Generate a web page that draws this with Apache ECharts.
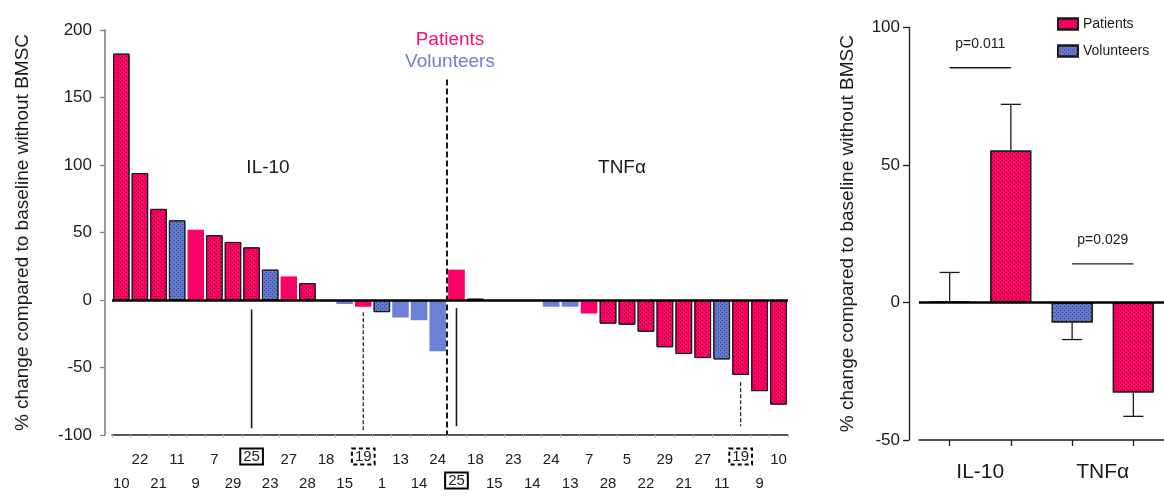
<!DOCTYPE html>
<html>
<head>
<meta charset="utf-8">
<script src="https://cdn.jsdelivr.net/npm/echarts/dist/echarts.min.js"></script>
<style>
  html, body { margin: 0; padding: 0; background: #fff; }
  #chart { width: 1164px; height: 496px; }
</style>
</head>
<body>
<div id="chart"></div>
<script>
/******************* data *******************/
// IL-10 waterfall (subject id, % change, bar kind: P/p patient dotted/plain, V/v volunteer dotted/plain)
var il10Ids    = ['10','22','21','11','9','7','29','25','23','27','28','18','15','19','1','13','14','24'];
var il10Values = [182.5, 94, 67.5, 59, 52, 48, 43, 39, 22.5, 17.5, 12.5, 0, -3, -5, -9, -13, -15, -38];
var il10Kinds  = ['P','P','P','V','p','P','P','P','V','p','P','v','v','p','V','v','v','v'];
// TNFa waterfall
var tnfIds    = ['25','18','15','23','14','24','13','7','28','5','22','29','21','27','11','19','9','10'];
var tnfValues = [22.5, 1, 0, 0, 0, -5, -5, -10, -17.5, -18.3, -23.5, -35, -40, -43, -44, -55.5, -67.5, -77.5];
var tnfKinds  = ['p','V','v','v','v','v','v','p','P','P','P','P','P','P','V','P','P','P'];
// marker lines under subjects 25 / 19 : [category index, from, to, dashed]
var il10Marks = [[7, -7, -95, 0], [13, -9, -96.5, 1]];
var tnfMarks  = [[0, -6, -93.5, 0], [15, -61, -93.5, 1]];

// summary panel
var cytokines   = ['IL-10', 'TNFα'];
var volMean     = [0.3, -7.3];
var volErrEnd   = [10.9, -13.5];
var patMean     = [55.2, -32.7];
var patErrEnd   = [72, -41.4];
var pTexts      = ['p=0.011', 'p=0.029'];
var pLevels     = [85.3, 14];

/******************* styles *******************/
var FONT = 'Liberation Sans, Arial, sans-serif';
var PINK = '#ff0066';
var BLUE = '#6b80d6';
var BLUE_DOT = '#6478d0';
var DOTS = {
    symbol: 'rect',
    symbolSize: 1,
    color: 'rgba(0,0,0,0.45)',
    dashArrayX: [[1, 3], [0, 2, 1, 1]],
    dashArrayY: [1, 1]
};

function buildBars(values, kinds) {
    return values.map(function (v, i) {
        var k = kinds[i];
        var patient = (k === 'P' || k === 'p');
        var dotted = (k === 'P' || k === 'V');
        var style = {
            color: patient ? PINK : (dotted ? BLUE_DOT : BLUE),
            borderColor: dotted ? '#1a1a1a' : 'rgba(0,0,0,0)',
            borderWidth: dotted ? 1 : 0
        };
        if (dotted) {
            style.decal = DOTS;
        }
        return { value: v, itemStyle: style };
    });
}

function labelFormatter(value, index) {
    var txt = value;
    if (value === '25') {
        txt = '{solid|25}';
    } else if (value === '19') {
        txt = '{dash|19}';
    }
    return index % 2 === 0 ? '\n' + txt : txt;
}

function waterfallXAxis(gridIndex, ids) {
    return {
        type: 'category',
        gridIndex: gridIndex,
        data: ids,
        position: 'bottom',
        axisLine: { onZero: false, lineStyle: { color: '#222', width: 1.5 } },
        axisTick: { show: true, length: 3, interval: 0, lineStyle: { color: '#c8c8c8' } },
        axisLabel: {
            interval: 0,
            margin: 13,
            lineHeight: 24,
            fontSize: 15,
            fontFamily: FONT,
            color: '#1a1a1a',
            formatter: labelFormatter,
            rich: {
                solid: {
                    fontSize: 15, fontFamily: FONT, color: '#1a1a1a', lineHeight: 17,
                    borderColor: '#000', borderWidth: 2, padding: [1, 3, 0, 3]
                },
                dash: {
                    fontSize: 15, fontFamily: FONT, color: '#1a1a1a', lineHeight: 17,
                    borderColor: '#000', borderWidth: 2, borderType: [4, 3], padding: [1, 3, 0, 3]
                }
            }
        }
    };
}

function renderMarks(params, api) {
    var p0 = api.coord([api.value(0), api.value(1)]);
    var p1 = api.coord([api.value(0), api.value(2)]);
    var dashed = api.value(3) === 1;
    return {
        type: 'line',
        shape: { x1: p0[0], y1: p0[1], x2: p1[0], y2: p1[1] },
        style: {
            stroke: '#1a1a1a',
            lineWidth: dashed ? 1.2 : 1.6,
            lineDash: dashed ? [4, 2] : null
        }
    };
}

function renderSeparator(params, api) {
    var band = api.size([1, 0])[0];
    var p0 = api.coord([api.value(0), api.value(1)]);
    var p1 = api.coord([api.value(0), api.value(2)]);
    var x = p0[0] - band / 2;
    return {
        type: 'line',
        shape: { x1: x, y1: p0[1], x2: x, y2: p1[1] },
        style: { stroke: '#1a1a1a', lineWidth: 2, lineDash: [6, 3] }
    };
}

function renderError(params, api) {
    var band = api.size([1, 0])[0];
    var p0 = api.coord([api.value(0), api.value(1)]);
    var p1 = api.coord([api.value(0), api.value(2)]);
    var x = p0[0] + api.value(3) * band * 0.25;
    return {
        type: 'group',
        children: [
            { type: 'line', shape: { x1: x, y1: p0[1], x2: x, y2: p1[1] }, style: { stroke: '#1a1a1a', lineWidth: 1.3 } },
            { type: 'line', shape: { x1: x - 10, y1: p1[1], x2: x + 10, y2: p1[1] }, style: { stroke: '#1a1a1a', lineWidth: 1.3 } }
        ]
    };
}

function renderBracket(params, api) {
    var band = api.size([1, 0])[0];
    var p = api.coord([api.value(0), api.value(1)]);
    return {
        type: 'group',
        children: [
            { type: 'line', shape: { x1: p[0] - band * 0.25, y1: p[1], x2: p[0] + band * 0.25, y2: p[1] }, style: { stroke: '#1a1a1a', lineWidth: 1.3 } },
            {
                type: 'text',
                style: {
                    text: pTexts[params.dataIndex], x: p[0], y: p[1] - 24,
                    align: 'center', verticalAlign: 'middle', textAlign: 'center', textVerticalAlign: 'middle',
                    fontSize: 14, fontFamily: FONT, fill: '#1a1a1a'
                }
            }
        ]
    };
}

// plain text annotations on the waterfall panel
function note(text, x, y, color) {
    return {
        type: 'text',
        style: {
            text: text, x: x, y: y,
            align: 'center', verticalAlign: 'middle', textAlign: 'center', textVerticalAlign: 'middle',
            fontSize: 19, fontFamily: FONT, fill: color
        }
    };
}

var zeroLine = {
    symbol: 'none',
    silent: true,
    label: { show: false },
    lineStyle: { color: '#000', width: 2.5, type: 'solid' },
    data: [{ yAxis: 0 }]
};

var errData = [];
var bracketData = [];
for (var i = 0; i < cytokines.length; i++) {
    errData.push([i, volMean[i], volErrEnd[i], -1]);
    errData.push([i, patMean[i], patErrEnd[i], 1]);
    bracketData.push([i, pLevels[i]]);
}

var yName = '% change compared to baseline without BMSC';

var option = {
    animation: false,
    backgroundColor: '#fff',
    textStyle: { fontFamily: FONT },
    grid: [
        { left: 112, width: 335, top: 30, height: 409.4 },
        { left: 447, width: 341, top: 30, height: 409.4 },
        { left: 919, right: 0, top: 27.3, height: 412.7 }
    ],
    legend: {
        data: ['Patients', 'Volunteers'],
        orient: 'vertical',
        left: 1052,
        top: 12,
        icon: 'rect',
        itemWidth: 20,
        itemHeight: 11,
        itemGap: 13,
        textStyle: { fontSize: 14, fontFamily: FONT, color: '#1a1a1a' }
    },
    graphic: [
        note('Patients', 450, 40, '#ff0a6e'),
        note('Volunteers', 450, 62, '#6b80d6'),
        note('IL-10', 268, 168, '#1a1a1a'),
        note('TNFα', 622, 168, '#1a1a1a')
    ],
    xAxis: [
        waterfallXAxis(0, il10Ids),
        waterfallXAxis(1, tnfIds),
        {
            type: 'category',
            gridIndex: 2,
            data: cytokines,
            position: 'bottom',
            axisLine: { onZero: false, lineStyle: { color: '#1a1a1a', width: 1.5 } },
            axisTick: { show: false },
            axisLabel: { fontSize: 21, fontFamily: FONT, color: '#1a1a1a', margin: 22 }
        },
        {
            type: 'category',
            gridIndex: 2,
            data: ['a', 'b', 'c', 'd'],
            position: 'bottom',
            axisLine: { show: false, onZero: false },
            axisTick: { show: true, alignWithLabel: true, length: 6, lineStyle: { color: '#1a1a1a', width: 1.3 } },
            axisLabel: { show: false }
        }
    ],
    yAxis: [
        {
            type: 'value',
            gridIndex: 0,
            min: -100, max: 200, interval: 50,
            offset: 7,
            name: yName,
            nameLocation: 'middle',
            nameGap: 73,
            nameTextStyle: { fontSize: 19, fontFamily: FONT, color: '#1a1a1a' },
            axisLine: { show: true, lineStyle: { color: '#808080', width: 1.6 } },
            axisTick: { show: true, length: 5, lineStyle: { color: '#808080', width: 1.3 } },
            axisLabel: { fontSize: 17, fontFamily: FONT, color: '#1a1a1a', margin: 13 },
            splitLine: { show: false }
        },
        {
            type: 'value',
            gridIndex: 1,
            min: -100, max: 200, interval: 50,
            show: false,
            splitLine: { show: false }
        },
        {
            type: 'value',
            gridIndex: 2,
            min: -50, max: 100, interval: 50,
            offset: 10,
            name: yName,
            nameLocation: 'middle',
            nameGap: 52,
            nameTextStyle: { fontSize: 19, fontFamily: FONT, color: '#1a1a1a' },
            axisLine: { show: true, lineStyle: { color: '#1a1a1a', width: 1.3 } },
            axisTick: { show: true, length: 6, lineStyle: { color: '#1a1a1a', width: 1.3 } },
            axisLabel: { fontSize: 17, fontFamily: FONT, color: '#1a1a1a', margin: 9 },
            splitLine: { show: false }
        }
    ],
    series: [
        {
            name: 'IL-10 change',
            type: 'bar',
            xAxisIndex: 0, yAxisIndex: 0,
            barWidth: 16.5,
            data: buildBars(il10Values, il10Kinds),
            markLine: zeroLine
        },
        {
            name: 'TNFα change',
            type: 'bar',
            xAxisIndex: 1, yAxisIndex: 1,
            barWidth: 16.7,
            data: buildBars(tnfValues, tnfKinds),
            markLine: zeroLine
        },
        {
            name: 'IL-10 marks',
            type: 'custom',
            xAxisIndex: 0, yAxisIndex: 0,
            renderItem: renderMarks,
            data: il10Marks,
            z: 5
        },
        {
            name: 'TNFα marks',
            type: 'custom',
            xAxisIndex: 1, yAxisIndex: 1,
            renderItem: renderMarks,
            data: tnfMarks,
            z: 5
        },
        {
            name: 'separator',
            type: 'custom',
            xAxisIndex: 1, yAxisIndex: 1,
            renderItem: renderSeparator,
            data: [[0, 163.4, -100]],
            z: 6
        },
        {
            name: 'Volunteers',
            type: 'bar',
            xAxisIndex: 2, yAxisIndex: 2,
            barWidth: 41,
            barGap: '49%',
            data: volMean,
            itemStyle: { color: BLUE_DOT, borderColor: '#1a1a1a', borderWidth: 1.2, decal: DOTS }
        },
        {
            name: 'Patients',
            type: 'bar',
            xAxisIndex: 2, yAxisIndex: 2,
            barWidth: 41,
            barGap: '49%',
            data: patMean,
            itemStyle: { color: PINK, borderColor: '#1a1a1a', borderWidth: 1.2, decal: DOTS },
            markLine: zeroLine
        },
        {
            name: 'errors',
            type: 'custom',
            xAxisIndex: 2, yAxisIndex: 2,
            renderItem: renderError,
            data: errData,
            z: 1
        },
        {
            name: 'p values',
            type: 'custom',
            xAxisIndex: 2, yAxisIndex: 2,
            renderItem: renderBracket,
            data: bracketData,
            z: 5
        }
    ]
};

var chart = echarts.init(document.getElementById('chart'));
chart.setOption(option);
</script>
</body>
</html>
